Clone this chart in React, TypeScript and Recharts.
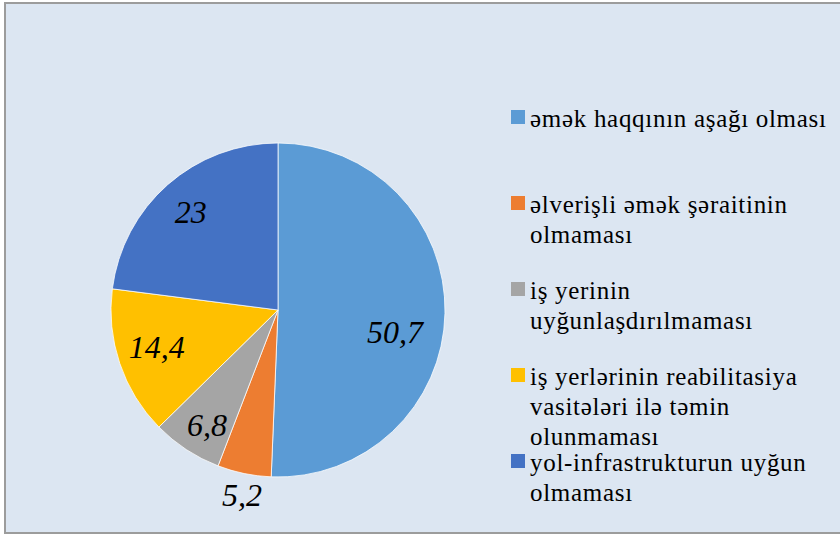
import { PieChart, Pie, Cell, Legend } from 'recharts'

const reasons = [
  'əmək haqqının aşağı olması',
  'əlverişli əmək şəraitinin olmaması',
  'iş yerinin uyğunlaşdırılmaması',
  'iş yerlərinin reabilitasiya vasitələri ilə təmin olunmaması',
  'yol-infrastrukturun uyğun olmaması',
]
const shares = [50.7, 5.2, 6.8, 14.4, 23]

const COLORS = ['#5b9bd5', '#ed7d31', '#a5a5a5', '#ffc000', '#4472c4']
// where each value label sits: fraction of the radius, and a nudge off the mid-angle (deg)
const LABEL_R = [0.713, 1.13, 0.81, 0.76, 0.785]
const LABEL_TURN = [-9.4, 0.7, 1.6, -1.6, 0.3]
const SERIF = '"Liberation Serif", "DejaVu Serif", serif'
const RAD = Math.PI / 180

const data = reasons.map((name, i) => ({ name, value: shares[i] }))

function ValueLabel(props: any) {
  const { cx, cy, midAngle, outerRadius, index, value } = props
  const r = outerRadius * LABEL_R[index]
  const a = midAngle + LABEL_TURN[index]
  const x = cx + r * Math.cos(-a * RAD)
  const y = cy + r * Math.sin(-a * RAD)
  return (
    <text
      x={x}
      y={y}
      textAnchor="middle"
      dominantBaseline="central"
      fill="#000"
      fontFamily={SERIF}
      fontStyle="italic"
      fontSize={32}
    >
      {String(value).replace('.', ',')}
    </text>
  )
}

function ReasonLegend({ payload }: any) {
  return (
    <div style={{ fontFamily: SERIF, fontSize: 25, lineHeight: '30px', color: '#000', letterSpacing: 0.7 }}>
      {(payload ?? []).map((p: any, i: number) => (
        <div key={i} style={{ display: 'flex', height: 86, alignItems: 'flex-start' }}>
          <span style={{ width: 14, height: 14, background: p.color, marginTop: 6, marginRight: 5, flexShrink: 0 }} />
          <span style={{ width: 308 }}>{p.value}</span>
        </div>
      ))}
    </div>
  )
}

export default function App() {
  return (
    <div style={{ position: 'absolute', left: 0, top: 0, width: 840, height: 535, overflow: 'hidden' }}>
      <div
        style={{
          position: 'absolute',
          left: 4,
          top: 2,
          width: 860,
          height: 532,
          boxSizing: 'border-box',
          border: '2px solid #9c9c9c',
          background: '#dce6f2',
        }}
      />
      <div style={{ position: 'absolute', left: 0, top: 0 }}>
        <PieChart width={840} height={535} margin={{ top: 0, right: 0, bottom: 0, left: 0 }}>
          <Pie
            data={data}
            dataKey="value"
            nameKey="name"
            cx={278}
            cy={310}
            outerRadius={167}
            startAngle={90}
            endAngle={-270}
            stroke="#ffffff"
            strokeWidth={0.75}
            label={ValueLabel}
            labelLine={false}
            isAnimationActive={false}
          >
            {data.map((_, i) => (
              <Cell key={i} fill={COLORS[i]} />
            ))}
          </Pie>
          <Legend
            content={ReasonLegend}
            itemSorter={null}
            layout="vertical"
            verticalAlign="top"
            align="right"
            wrapperStyle={{ left: 511, top: 104, width: 330 }}
          />
        </PieChart>
      </div>
    </div>
  )
}
